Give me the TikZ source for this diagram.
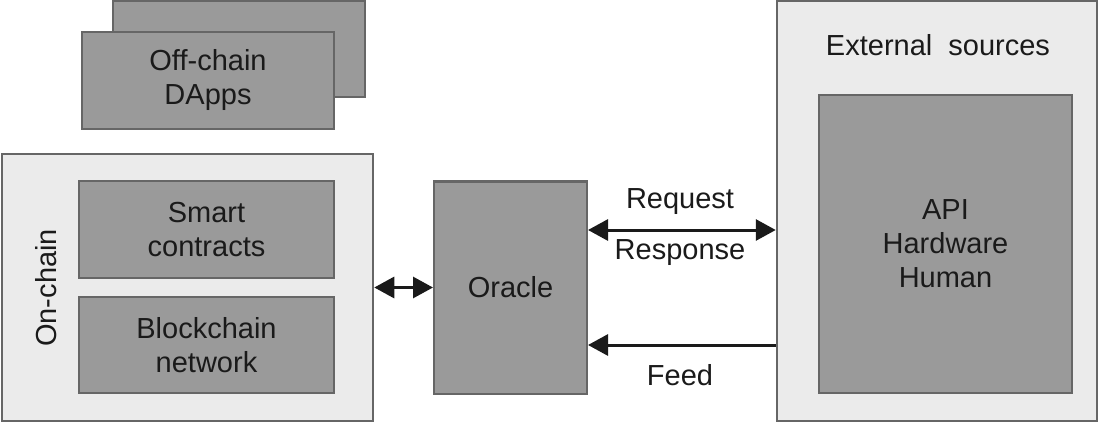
\documentclass[tikz,border=0pt]{standalone}
\usepackage{fontspec}
\setmainfont{Liberation Sans}
\usetikzlibrary{arrows.meta}
\definecolor{boxfill}{HTML}{9A9A9A}
\definecolor{outerfill}{HTML}{EBEBEB}
\definecolor{edge}{HTML}{666666}
\definecolor{ink}{HTML}{1A1A1A}
\tikzset{
  darkbox/.style={draw=edge, line width=2pt, fill=boxfill, rectangle, inner sep=0pt, align=center, text=ink, font=\fontsize{29}{34}\selectfont},
  outerbox/.style={draw=edge, line width=2.5pt, fill=outerfill, rectangle, inner sep=0pt},
  lbl/.style={text=ink, font=\fontsize{29}{34}\selectfont, inner sep=0pt},
  conn/.style={line width=3pt, draw=ink, {Triangle[length=20pt,width=21pt]}-{Triangle[length=20pt,width=21pt]}},
  feedconn/.style={line width=3pt, draw=ink, -{Triangle[length=20pt,width=21pt]}}
}
\begin{document}
\begin{tikzpicture}[x=1pt,y=-1pt]
\useasboundingbox (0,0) rectangle (1099,422);
% off-chain DApps
\node[darkbox, minimum width=252pt, minimum height=96pt] (back) at (239,49) {};
\node[darkbox, minimum width=252pt, minimum height=97pt] (dapps) at (208,80.5) {Off-chain\\DApps};
% on-chain group
\node[outerbox, minimum width=371pt, minimum height=267pt] (onchain) at (187.5,287.5) {};
\node[lbl, rotate=90] (onlbl) at (46,288) {On-chain};
\node[darkbox, minimum width=255pt, minimum height=97pt] (smart) at (206.5,229.5) {Smart\\contracts};
\node[darkbox, minimum width=255pt, minimum height=96pt] (bc) at (206.5,345) {Blockchain\\network};
% oracle
\node[darkbox, minimum width=153pt, minimum height=212pt] (oracle) at (510.5,287.5) {Oracle};
% external
\node[outerbox, minimum width=320pt, minimum height=420pt] (ext) at (937,211) {};
\node[lbl] (extlbl) at (938,45) {External\ \ sources};
\node[darkbox, minimum width=253pt, minimum height=298pt] (src) at (945.5,244) {API\\Hardware\\Human};
% connectors
\draw[conn] (onchain.east) -- (oracle.west);
\coordinate (r1) at ([yshift=57.5pt]oracle.east);
\draw[conn] (r1) -- (r1 -| ext.west);
\coordinate (f1) at ([yshift=-57.5pt]oracle.east);
\draw[feedconn] (f1 -| ext.west) -- (f1);
\node[lbl] (req) at (680,202) {Request};
\node[lbl] (resp) at (680,253) {Response};
\node[lbl] (feed) at (680,375) {Feed};
\end{tikzpicture}
\end{document}
